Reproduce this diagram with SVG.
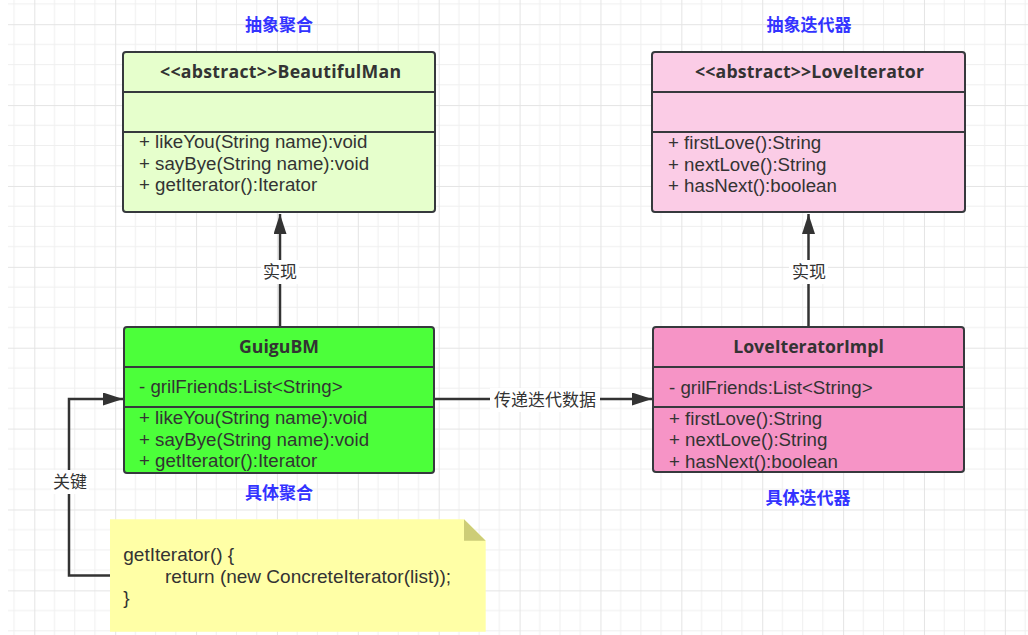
<svg xmlns="http://www.w3.org/2000/svg" width="1028" height="635" viewBox="0 0 1028 635">
<defs>
<pattern id="grid" patternUnits="userSpaceOnUse" x="34.3" y="24.2" width="80.88" height="80.88">
<path d="M20.22,0V80.88M40.44,0V80.88M60.66,0V80.88M0,20.22H80.88M0,40.44H80.88M0,60.66H80.88" stroke="#efefef" stroke-width="1" fill="none"/>
<path d="M0.5,0V80.88M0,0.5H80.88" stroke="#e4e4e4" stroke-width="1" fill="none"/>
</pattern>
<marker id="arrow" markerUnits="userSpaceOnUse" markerWidth="22" markerHeight="14" refX="20" refY="6.5" orient="auto">
<path d="M0,0 L20,6.5 L0,13 z" fill="#333333"/>
</marker>
<style>
.box{stroke:#36393d;stroke-width:2}
.div{stroke:#36393d;stroke-width:2}
.t{font-family:"Liberation Sans","Noto Sans CJK SC",sans-serif;font-size:18.7px;fill:#333333}
.n{font-family:"Liberation Sans","Noto Sans CJK SC",sans-serif;font-size:19px;fill:#333333}
.title{font-family:"Open Sans","Noto Sans CJK SC",sans-serif;font-size:17.7px;font-weight:bold;fill:#333333;text-anchor:middle}
.blue{font-family:"Noto Sans CJK SC",sans-serif;font-size:17px;font-weight:bold;fill:#3333ff;text-anchor:middle}
.lbl{font-family:"Noto Sans CJK SC",sans-serif;font-size:17px;fill:#333333;text-anchor:middle}
.edge{stroke:#333333;stroke-width:2.5;fill:none}
</style>
</defs>
<rect width="1028" height="635" fill="#ffffff"/>
<rect x="8" y="0" width="1020" height="635" fill="url(#grid)"/>

<g id="label-abstract-aggregate"><text class="blue" x="279" y="31">抽象聚合</text></g>
<g id="label-abstract-iterator"><text class="blue" x="809" y="31">抽象迭代器</text></g>
<g id="label-concrete-aggregate"><text class="blue" x="279" y="499">具体聚合</text></g>
<g id="label-concrete-iterator"><text class="blue" x="808" y="504">具体迭代器</text></g>

<g id="connectors">
<line class="edge" x1="280" y1="326" x2="280" y2="214" marker-end="url(#arrow)"/>
<rect x="261" y="260" width="38" height="24" fill="#ffffff"/>
<text class="lbl" x="280" y="278">实现</text>
<line class="edge" x1="808.5" y1="326" x2="808.5" y2="214" marker-end="url(#arrow)"/>
<rect x="789" y="260" width="39" height="24" fill="#ffffff"/>
<text class="lbl" x="809" y="278">实现</text>
<line class="edge" x1="435" y1="399" x2="652" y2="399" marker-end="url(#arrow)"/>
<rect x="490" y="388" width="110" height="24" fill="#ffffff"/>
<text class="lbl" x="545" y="406">传递迭代数据</text>
<polyline class="edge" points="110,575.5 69,575.5 69,399 123,399" marker-end="url(#arrow)"/>
<rect x="51" y="470" width="38" height="24" fill="#ffffff"/>
<text class="lbl" x="70" y="488">关键</text>
</g>

<g id="node-beautifulman">
<rect class="box" x="123" y="52" width="312" height="160" rx="3" fill="#e6ffcc"/>
<line class="div" x1="123" y1="92" x2="435" y2="92"/>
<line class="div" x1="123" y1="132" x2="435" y2="132"/>
<text class="title" x="280.5" y="78" textLength="241" lengthAdjust="spacing">&lt;&lt;abstract&gt;&gt;BeautifulMan</text>
<text class="t" x="139" y="148">+ likeYou(String name):void</text>
<text class="t" x="139" y="169.5">+ sayBye(String name):void</text>
<text class="t" x="139" y="191">+ getIterator():Iterator</text>
</g>

<g id="node-loveiterator">
<rect class="box" x="652" y="52" width="313" height="160" rx="3" fill="#fbcce6"/>
<line class="div" x1="652" y1="92" x2="965" y2="92"/>
<line class="div" x1="652" y1="132" x2="965" y2="132"/>
<text class="title" x="809.5" y="78" textLength="229" lengthAdjust="spacing">&lt;&lt;abstract&gt;&gt;LoveIterator</text>
<text class="t" x="668" y="149">+ firstLove():String</text>
<text class="t" x="668" y="170.5">+ nextLove():String</text>
<text class="t" x="668" y="192">+ hasNext():boolean</text>
</g>

<g id="node-guigubm">
<rect class="box" x="124" y="327" width="310" height="146" rx="3" fill="#4cff3a"/>
<line class="div" x1="124" y1="367" x2="434" y2="367"/>
<line class="div" x1="124" y1="407" x2="434" y2="407"/>
<text class="title" x="279" y="353">GuiguBM</text>
<text class="t" x="139" y="393">- grilFriends:List&lt;String&gt;</text>
<text class="t" x="139" y="424">+ likeYou(String name):void</text>
<text class="t" x="139" y="445.5">+ sayBye(String name):void</text>
<text class="t" x="139" y="467">+ getIterator():Iterator</text>
</g>

<g id="node-loveiteratorimpl">
<rect class="box" x="653" y="327" width="311" height="145" rx="3" fill="#f694c6"/>
<line class="div" x1="653" y1="367" x2="964" y2="367"/>
<line class="div" x1="653" y1="407" x2="964" y2="407"/>
<text class="title" x="808.5" y="353">LoveIteratorImpl</text>
<text class="t" x="669" y="394">- grilFriends:List&lt;String&gt;</text>
<text class="t" x="669" y="424.5">+ firstLove():String</text>
<text class="t" x="669" y="446">+ nextLove():String</text>
<text class="t" x="669" y="467.5">+ hasNext():boolean</text>
</g>

<g id="note">
<path d="M110,519.3 H464 L485.7,540.7 V631.7 H110 Z" fill="#ffffa6"/>
<path d="M464,519.3 V540.7 H485.7 Z" fill="#cdcd77"/>
<text class="n" x="123.3" y="561">getIterator() {</text>
<text class="n" x="165" y="582.5">return (new ConcreteIterator(list));</text>
<text class="n" x="123.3" y="604">}</text>
</g>
</svg>
